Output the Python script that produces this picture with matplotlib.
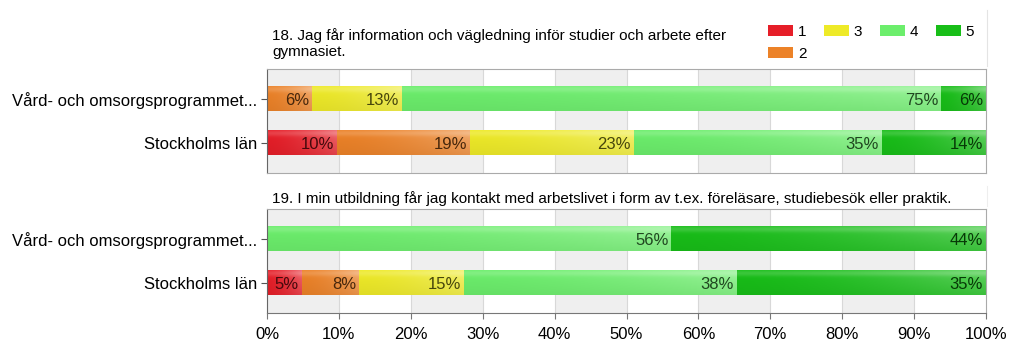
import matplotlib
matplotlib.use("Agg")
import matplotlib.pyplot as plt
import numpy as np
from matplotlib.patches import Patch
from matplotlib.colors import to_rgb

plt.rcParams['font.family'] = ['Liberation Sans', 'DejaVu Sans']

groups = ["Vård- och omsorgsprogrammet...", "Stockholms län"]
answers = ["1", "2", "3", "4", "5"]
colors = ["#e61e28", "#ec8228", "#eeea28", "#6cee6c", "#18be18"]

titles = [
    "18. Jag får information och vägledning inför studier och arbete efter\ngymnasiet.",
    "19. I min utbildning får jag kontakt med arbetslivet i form av t.ex. föreläsare, studiebesök eller praktik.",
]
# shares per answer 1..5, rows = groups
q18 = [[0, 6.25, 12.5, 75.0, 6.25],
       [9.7, 18.6, 22.7, 34.5, 14.5]]
q19 = [[0, 0, 0, 56.25, 43.75],
       [4.8, 8.0, 14.6, 37.9, 34.7]]
label_q18 = [[None, "6%", "13%", "75%", "6%"],
             ["10%", "19%", "23%", "35%", "14%"]]
label_q19 = [[None, None, None, "56%", "44%"],
             ["5%", "8%", "15%", "38%", "35%"]]

fig = plt.figure(figsize=(10.24, 3.5), dpi=100)
ax1 = fig.add_axes([267 / 1024, 1 - 173 / 350, 719 / 1024, 104 / 350])
ax2 = fig.add_axes([267 / 1024, 1 - 313 / 350, 719 / 1024, 104 / 350])

bar_h = 0.55


def shade_img(c):
    base = np.array(to_rgb(c))
    h, w = 40, 80
    yy = np.linspace(0, 1, h)[:, None]  # 0 = top
    xx = np.linspace(0, 1, w)[None, :]
    light = 0.32 * xx ** 1.6 * (1 - 0.5 * yy) + 0.15 * np.exp(-((yy - 0.12) / 0.12) ** 2)
    dark = 0.06 * yy
    img = base[None, None, :] * (1 - dark[..., None])
    img = img + (1 - img) * light[..., None]
    return np.clip(img, 0, 1)


def draw(ax, data, labels, title, title_y):
    ax.set_xlim(0, 100)
    ax.set_ylim(1.69, -0.69)
    for i in range(10):
        if i % 2 == 0:
            ax.axvspan(i * 10, i * 10 + 10, color="#efefef", lw=0, zorder=0)
        ax.axvline(i * 10, color="#d8d8d8", lw=0.8, zorder=0.5)
    data = np.array(data)
    left = np.zeros(len(groups))
    for j, c in enumerate(colors):
        vals = data[:, j]
        bars = ax.barh(range(len(groups)), vals, left=left, height=bar_h,
                       color=c, lw=0, zorder=2)
        for k, b in enumerate(bars):
            if vals[k] <= 0:
                continue
            x0, y0 = b.get_x(), b.get_y()
            ax.imshow(shade_img(c), extent=(x0, x0 + b.get_width(), y0 + b.get_height(), y0),
                      aspect="auto", zorder=2.5, interpolation="bilinear")
            lab = labels[k][j]
            if lab:
                tc = np.array(to_rgb(c)) * 0.3
                ax.text(x0 + b.get_width() - 0.4, k + 0.03, lab, ha="right", va="center",
                        fontsize=12, color=tc, zorder=3)
        left = left + vals
    ax.set_yticks(range(len(groups)))
    ax.set_yticklabels(groups, fontsize=12)
    ax.tick_params(axis="y", length=4, width=0.8, color="#555555", pad=3)
    for s in ["top", "right"]:
        ax.spines[s].set_color("#aaaaaa")
    ax.spines["left"].set_color("#666666")
    ax.spines["bottom"].set_color("#aaaaaa")
    ax.set_xticks(range(0, 101, 10))
    ax.text(0.007, title_y, title, transform=ax.transAxes, fontsize=11,
            ha="left", va="bottom", linespacing=1.12)
    ax.set_aspect("auto")


draw(ax1, q18, label_q18, titles[0], 1.10)
draw(ax2, q19, label_q19, titles[1], 1.027)
ax1.tick_params(axis="x", length=0, labelbottom=False)
ax2.set_xticklabels([f"{v}%" for v in range(0, 101, 10)], fontsize=12)
ax2.tick_params(axis="x", length=4, color="#777777", pad=6)
ax2.spines["bottom"].set_color("#777777")

handles = [Patch(facecolor=c, edgecolor="none") for c in colors]
fig.legend(handles, answers, loc="upper left", bbox_to_anchor=(762 / 1024, 1 - 19 / 350),
           ncol=4, frameon=False, fontsize=11, handlelength=1.65, handleheight=0.7,
           handletextpad=0.3, columnspacing=1.15, labelspacing=0.5, borderaxespad=0)

fig.add_artist(plt.Line2D([987 / 1024, 987 / 1024], [1 - 10 / 350, 1 - 66 / 350],
                          color="#e4e4e4", lw=0.8))
fig.add_artist(plt.Line2D([987 / 1024, 987 / 1024], [1 - 186 / 350, 1 - 206 / 350],
                          color="#eeeeee", lw=0.8))

fig.savefig("out.png", dpi=100)
